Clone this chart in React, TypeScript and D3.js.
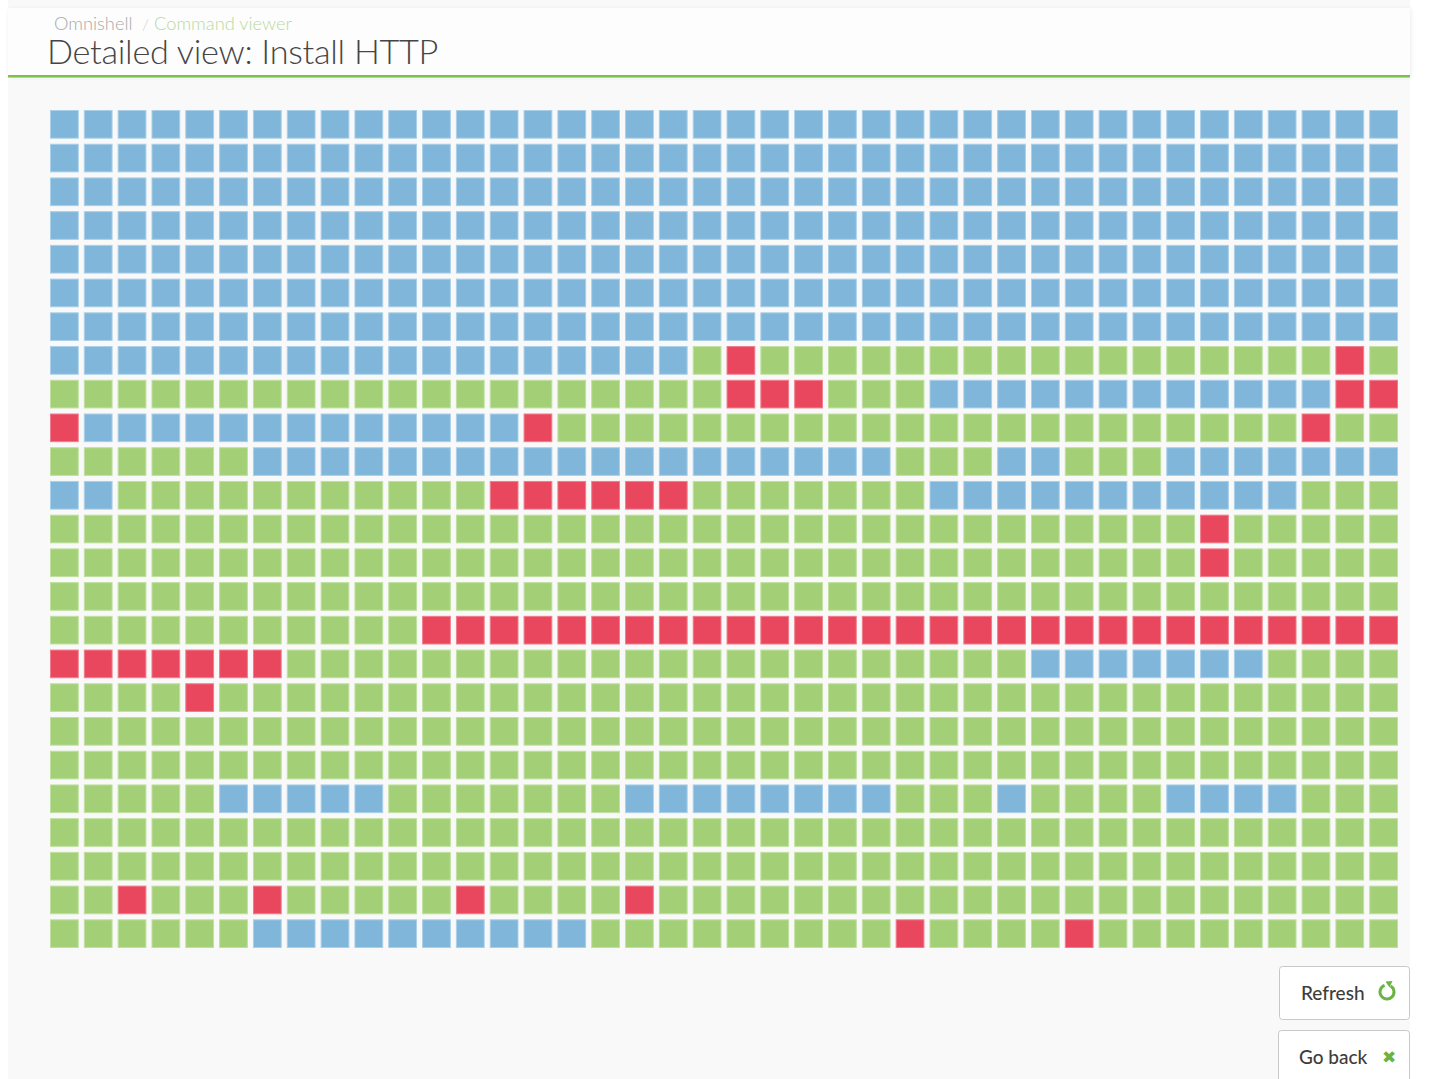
import React from "react";
import * as d3 from "d3";

// status codes: b = pending (blue), g = done (green), r = failed (red)
// each row is stored as runs of [status, count]
const rowRuns: [string, number][][] = [
  [["b", 40]],
  [["b", 40]],
  [["b", 40]],
  [["b", 40]],
  [["b", 40]],
  [["b", 40]],
  [["b", 40]],
  [["b", 19], ["g", 1], ["r", 1], ["g", 17], ["r", 1], ["g", 1]],
  [["g", 20], ["r", 3], ["g", 3], ["b", 12], ["r", 2]],
  [["r", 1], ["b", 13], ["r", 1], ["g", 22], ["r", 1], ["g", 2]],
  [["g", 6], ["b", 19], ["g", 3], ["b", 2], ["g", 3], ["b", 7]],
  [["b", 2], ["g", 11], ["r", 6], ["g", 7], ["b", 11], ["g", 3]],
  [["g", 34], ["r", 1], ["g", 5]],
  [["g", 34], ["r", 1], ["g", 5]],
  [["g", 40]],
  [["g", 11], ["r", 29]],
  [["r", 7], ["g", 22], ["b", 7], ["g", 4]],
  [["g", 4], ["r", 1], ["g", 35]],
  [["g", 40]],
  [["g", 40]],
  [["g", 5], ["b", 5], ["g", 7], ["b", 8], ["g", 3], ["b", 1], ["g", 4], ["b", 4], ["g", 3]],
  [["g", 40]],
  [["g", 40]],
  [["g", 2], ["r", 1], ["g", 3], ["r", 1], ["g", 5], ["r", 1], ["g", 4], ["r", 1], ["g", 22]],
  [["g", 6], ["b", 10], ["g", 9], ["r", 1], ["g", 4], ["r", 1], ["g", 9]],
];

const statusCodes = ["b", "g", "r"];
const statusFills = ["#80b6da", "#a3d076", "#e8475d"];
const statusStrokes = ["#a9cfe9", "#c0e0a0", "#f07d8c"];

const breadcrumb = ["Omnishell", "Command viewer"];
const title = "Detailed view: Install HTTP";
const buttons = ["Refresh", "Go back"];

interface Cell {
  row: number;
  col: number;
  status: string;
}

const cells: Cell[] = [];
rowRuns.forEach((runs, row) => {
  let col = 0;
  runs.forEach(([status, n]) => {
    for (let k = 0; k < n; k++) {
      cells.push({ row, col, status });
      col++;
    }
  });
});

const nCols = d3.max(cells, (c) => c.col)! + 1;
const nRows = rowRuns.length;

export default function App() {
  const width = 1434;
  const height = 1079;

  const x = d3
    .scaleBand<number>()
    .domain(d3.range(nCols))
    .range([50, 1398])
    .paddingInner(0.15)
    .paddingOuter(0);

  const y = d3
    .scaleBand<number>()
    .domain(d3.range(nRows))
    .range([110, 948])
    .paddingInner(0.15)
    .paddingOuter(0);

  const fill = d3.scaleOrdinal<string, string>().domain(statusCodes).range(statusFills);
  const stroke = d3.scaleOrdinal<string, string>().domain(statusCodes).range(statusStrokes);

  // refresh icon: open ring with an arrow head
  const ring = d3
    .arc()
    .innerRadius(5.5)
    .outerRadius(8.5)
    .startAngle(0.55)
    .endAngle(Math.PI * 2 - 0.35)({} as any);

  return (
    <svg
      width={width}
      height={height}
      style={{ position: "fixed", left: 0, top: 0, background: "#ffffff" }}
      fontFamily="Lato, 'Open Sans', sans-serif"
    >
      <defs>
        <filter id="hdrShadow" x="-2%" y="-20%" width="104%" height="160%">
          <feDropShadow dx="1" dy="1" stdDeviation="2" floodColor="#000" floodOpacity="0.08" />
        </filter>
      </defs>

      {/* page card */}
      <rect x={8} y={0} width={1402} height={height} fill="#f9f9f9" />

      {/* header */}
      <rect x={8} y={8} width={1402} height={68} fill="#fdfdfd" filter="url(#hdrShadow)" />
      <rect x={8} y={75} width={1402} height={2.5} fill="#7fc04a" />
      <text x={54} y={30} fontSize={18.3} fontWeight={300} fill="#a8a8a8">
        {breadcrumb[0]}
      </text>
      <text x={142} y={30} fontSize={16} fontWeight={300} fill="#d4d4d4">
        /
      </text>
      <text x={154} y={30} fontSize={18.3} fontWeight={300} fill="#b9d9a0">
        {breadcrumb[1]}
      </text>
      <text x={47} y={64} fontSize={34.3} fontWeight={300} fill="#454545" letterSpacing={-0.3}>
        {title}
      </text>

      {/* status grid */}
      <g>
        {cells.map((c) => (
          <rect
            key={`${c.row}-${c.col}`}
            x={x(c.col)! + 0.5}
            y={y(c.row)! + 0.5}
            width={x.bandwidth() - 1}
            height={y.bandwidth() - 1}
            fill={fill(c.status)}
            stroke={stroke(c.status)}
            strokeWidth={1}
          />
        ))}
      </g>

      {/* buttons */}
      <g transform="translate(1279,966)">
        <rect x={0.5} y={0.5} width={130} height={53} rx={3} fill="#ffffff" stroke="#c8c8c8" />
        <text x={22} y={34} fontSize={19} fontWeight={500} fill="#3d3d3d">
          {buttons[0]}
        </text>
        <g transform="translate(108,26)">
          <path d={ring!} fill="#6ab344" />
          <path d="M-1.5,-10.5 L5.5,-11 L2.5,-4.5 Z" fill="#6ab344" />
        </g>
      </g>
      <g transform="translate(1278,1030)">
        <rect x={0.5} y={0.5} width={131} height={60} rx={3} fill="#ffffff" stroke="#c8c8c8" />
        <text x={21} y={34} fontSize={19} fontWeight={500} fill="#3d3d3d">
          {buttons[1]}
        </text>
        <text x={111} y={33} fontSize={17} fontWeight={700} fill="#6ab344" textAnchor="middle" fontFamily="DejaVu Sans">
          ✖
        </text>
      </g>
    </svg>
  );
}
